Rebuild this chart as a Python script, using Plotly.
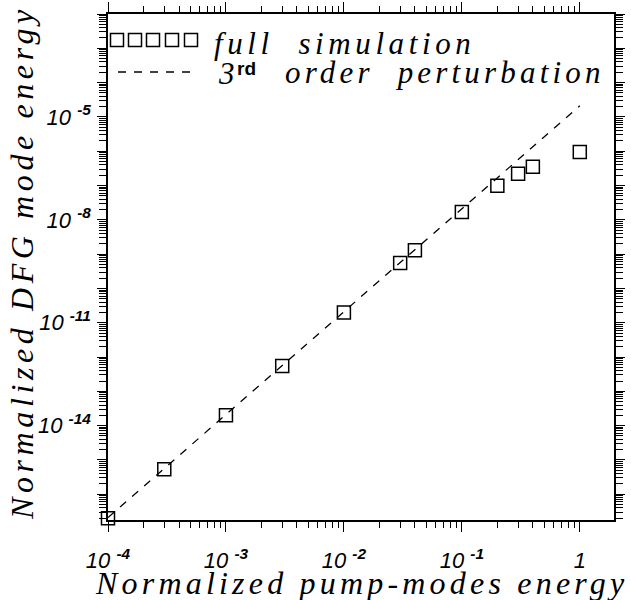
import plotly.graph_objects as go

# ---- data ----
pump_energy = [1e-4, 3e-4, 1e-3, 3e-3, 1e-2, 3e-2, 4e-2, 1e-1, 2e-1, 3e-1, 4e-1, 1.0]
dfg_energy_sim = [2.0e-17, 5.4e-16, 2.0e-14, 5.5e-13, 2.0e-11, 5.5e-10, 1.3e-9,
                  1.7e-8, 9.8e-8, 2.2e-7, 3.5e-7, 9.5e-7]
pert_x = [1e-4, 1.0]
pert_y = [2.1e-17, 2.1e-5]

x_major = [1e-4, 1e-3, 1e-2, 1e-1, 1.0]
x_labels = ["10 <sup><b>-4</b></sup>", "10 <sup><b>-3</b></sup>", "10 <sup><b>-2</b></sup>",
            "10 <sup><b>-1</b></sup>", "1"]
y_exponents = list(range(-16, -1))
y_labeled = {-2: "10 <sup><b>-2</b></sup>", -5: "10 <sup><b>-5</b></sup>",
             -8: "10 <sup><b>-8</b></sup>", -11: "10 <sup><b>-11</b></sup>",
             -14: "10 <sup><b>-14</b></sup>"}

legend_sim_label = "full  simulation"
legend_pert_label = "order  perturbation"
x_title = "Normalized pump-modes energy"
y_title = "Normalized DFG mode energy"

# ---- layout geometry ----
W, H = 631, 600
L, R, T, B = 108, 17, 14, 80
x0, x1 = L, W - R
y0, y1 = T, H - B


def px_x(px):
    return (px - x0) / (x1 - x0)


def px_y(py):
    return (y1 - py) / (y1 - y0)


def spaced(s, sp):
    return '<span style="letter-spacing:%.1fpx">%s</span>' % (sp, s)


x_minor = [m * 10.0 ** k for k in range(-4, 1) for m in range(2, 10) if m * 10.0 ** k <= 2]
y_minor = [m * 10.0 ** k for k in range(-17, -2) for m in range(2, 10)]
y_major = [10.0 ** e for e in y_exponents]
y_text = [y_labeled.get(e, "") for e in y_exponents]

serif = "Liberation Serif"
sans = "Liberation Sans"
X_RANGE = [-4, 0.29]
Y_RANGE = [-16.75, -2]

fig = go.Figure()

# perturbation line drawn on the top/right axes (same ranges as bottom/left)
fig.add_trace(go.Scatter(
    x=pert_x, y=pert_y, mode="lines", xaxis="x2", yaxis="y2",
    line=dict(color="black", width=1.3, dash="8px,8px"),
    showlegend=False, cliponaxis=False,
))
fig.add_trace(go.Scatter(
    x=pump_energy, y=dfg_energy_sim, mode="markers",
    marker=dict(symbol="square-open", size=13, color="black", line=dict(width=1.5, color="black")),
    showlegend=False, cliponaxis=False,
))

# ---- custom legend on a pixel-coordinate overlay axis ----
leg_sq_x = [117, 135, 153, 172, 191]
leg_sq_y = [40, 40, 40, 40, 40]
fig.add_trace(go.Scatter(
    x=leg_sq_x, y=leg_sq_y, mode="markers", xaxis="x3", yaxis="y3",
    marker=dict(symbol="square-open", size=13, color="black", line=dict(width=1.5, color="black")),
    showlegend=False, cliponaxis=False,
))
fig.add_trace(go.Scatter(
    x=[118, 194], y=[72, 72], mode="lines", xaxis="x3", yaxis="y3",
    line=dict(color="black", width=1.3, dash="8px,8px"),
    showlegend=False, cliponaxis=False,
))

tickfont = dict(family=sans, size=22, style="italic", color="black")
base = dict(type="log", showgrid=False, zeroline=False, automargin=False,
            showline=True, linecolor="black", linewidth=1.5,
            ticks="outside", tickcolor="black", tickwidth=1.2)
xminor = dict(tickmode="array", tickvals=x_minor, ticks="outside", ticklen=6,
              tickcolor="black", tickwidth=1.2, showgrid=False)
yminor = dict(tickmode="array", tickvals=y_minor, ticks="outside", ticklen=7,
              tickcolor="black", tickwidth=1.0, showgrid=False)

fig.update_layout(
    width=W, height=H,
    margin=dict(l=L, r=R, t=T, b=B, pad=0),
    paper_bgcolor="white", plot_bgcolor="white",
    xaxis=dict(**base, range=X_RANGE, tickmode="array", tickvals=x_major, ticktext=x_labels,
               ticklen=10, tickfont=tickfont, ticklabelstandoff=10, minor=xminor),
    yaxis=dict(**base, range=Y_RANGE, tickmode="array", tickvals=y_major, ticktext=y_text,
               ticklen=9, tickfont=tickfont, ticklabelstandoff=2, minor=yminor),
    xaxis2=dict(**base, range=X_RANGE, overlaying="x", side="top", anchor="y2",
                tickmode="array", tickvals=x_major, ticklen=10, showticklabels=False,
                minor=xminor),
    yaxis2=dict(**base, range=Y_RANGE, overlaying="y", side="right", anchor="x2",
                tickmode="array", tickvals=y_major, ticklen=9, showticklabels=False,
                minor=yminor),
    xaxis3=dict(range=[x0, x1], visible=False, overlaying="x", fixedrange=True, automargin=False),
    yaxis3=dict(range=[y1, y0], visible=False, overlaying="y", fixedrange=True, automargin=False),
)

tfont_leg = dict(family=serif, size=31, style="italic", color="black")
tfont_ttl = dict(family=serif, size=32, style="italic", color="black")
ann = []
ann.append(dict(x=212, y=43, xref="x3", yref="y3", text=spaced(legend_sim_label, 4.6),
                showarrow=False, xanchor="left", yanchor="middle", font=tfont_leg))
ann.append(dict(x=216, y=73, xref="x3", yref="y3", text="3", showarrow=False,
                xanchor="left", yanchor="middle", font=tfont_leg))
ann.append(dict(x=235, y=68, xref="x3", yref="y3", text="rd", showarrow=False,
                xanchor="left", yanchor="middle",
                font=dict(family=sans, size=19, weight="bold", color="black")))
ann.append(dict(x=283, y=72, xref="x3", yref="y3", text=spaced(legend_pert_label, 4.2),
                showarrow=False, xanchor="left", yanchor="middle", font=tfont_leg))
ann.append(dict(x=px_x(93), y=px_y(583), xref="paper", yref="paper",
                text=spaced(x_title, 4.2),
                showarrow=False, xanchor="left", yanchor="middle", font=tfont_ttl))
ann.append(dict(x=px_x(22), y=px_y(263), xref="paper", yref="paper",
                text=spaced(y_title, 4.6),
                showarrow=False, xanchor="center", yanchor="middle", textangle=-90,
                font=tfont_ttl))
fig.update_layout(annotations=ann)

fig.write_html("out.html")
